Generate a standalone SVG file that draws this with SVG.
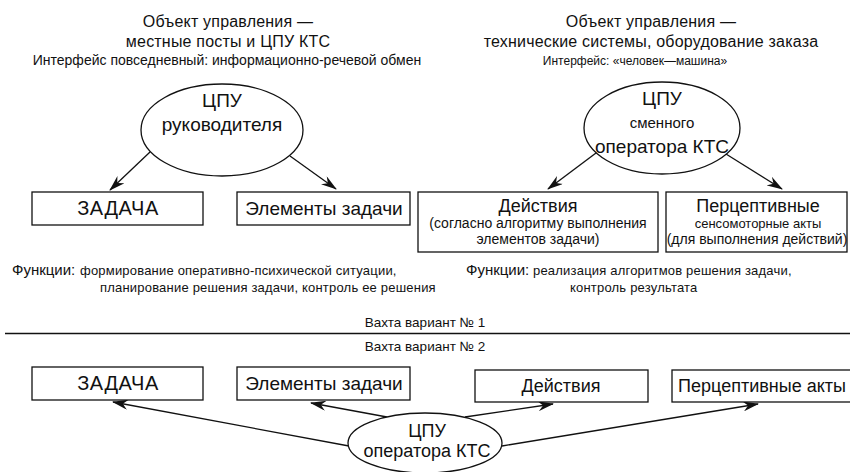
<svg xmlns="http://www.w3.org/2000/svg" width="850" height="472" viewBox="0 0 850 472">
<defs>
<marker id="ah" viewBox="0 0 16 10" refX="15" refY="5" markerWidth="16" markerHeight="10" markerUnits="userSpaceOnUse" orient="auto">
<path d="M0,0 L16,5 L0,10 L5,5 z" fill="#111"/>
</marker>
<style>
text{font-family:"Liberation Sans",Arial,sans-serif;fill:#111;text-anchor:middle}
.t{font-size:16px;letter-spacing:0.2px}
.s{font-size:14px}
.s2{font-size:12px}
.b{font-size:19px}
.z{font-size:20px;letter-spacing:0.6px}
.d{font-size:18px}
.m{font-size:14px}
.m2{font-size:13px}
.sm{font-size:15px}
.f{font-size:15px;text-anchor:start}
.fs{font-size:13px;letter-spacing:0.2px;text-anchor:start}
.v{font-size:13.5px}
rect,ellipse{fill:#fff;stroke:#111;stroke-width:1.3}
.c line{stroke:#111;stroke-width:1.3;marker-end:url(#ah)}
</style>
</defs>
<rect x="0" y="0" width="850" height="472" style="fill:#fff;stroke:none"/>
<g id="titles">
<text class="t" x="228" y="27">Объект управления —</text>
<text class="t" x="228" y="47">местные посты и ЦПУ КТС</text>
<text class="s" x="227" y="65">Интерфейс повседневный: информационно-речевой обмен</text>
<text class="t" x="651" y="27">Объект управления —</text>
<text class="t" x="651" y="47">технические системы, оборудование заказа</text>
<text class="s2" x="635" y="65">Интерфейс: «человек—машина»</text>
</g>
<g class="c" id="connectors">
<line x1="150" y1="152" x2="110" y2="190"/>
<line x1="290" y1="156" x2="336" y2="189"/>
<line x1="600" y1="150" x2="548" y2="189"/>
<line x1="726" y1="154" x2="782" y2="189"/>
<line x1="349" y1="446" x2="113" y2="402"/>
<line x1="387" y1="417" x2="311" y2="403"/>
<line x1="465" y1="417" x2="553" y2="404"/>
<line x1="502" y1="446" x2="758" y2="404"/>
</g>
<g id="n-ruk">
<ellipse cx="222" cy="130" rx="81" ry="46"/>
<text class="b" x="222" y="107">ЦПУ</text>
<text class="b" x="222" y="131">руководителя</text>
</g>
<g id="n-smen">
<ellipse cx="662" cy="128" rx="78" ry="46"/>
<text class="b" x="662" y="105">ЦПУ</text>
<text class="sm" x="662" y="128">сменного</text>
<text class="b" x="662" y="153">оператора КТС</text>
</g>
<g id="n-zad1">
<rect x="32" y="192" width="171" height="33"/>
<text class="z" x="118" y="215">ЗАДАЧА</text>
</g>
<g id="n-el1">
<rect x="237" y="192" width="173" height="33"/>
<text class="b" x="324" y="215">Элементы задачи</text>
</g>
<g id="n-dei1">
<rect x="418" y="192" width="240" height="60"/>
<text class="d" x="538" y="212">Действия</text>
<text class="m" x="538" y="228">(согласно алгоритму выполнения</text>
<text class="m" x="538" y="244">элементов задачи)</text>
</g>
<g id="n-per1">
<rect x="666" y="192" width="181" height="60"/>
<text class="d" x="758" y="212">Перцептивные</text>
<text class="m2" x="758" y="228">сенсомоторные акты</text>
<text class="m" x="757" y="244">(для выполнения действий)</text>
</g>
<g id="functions">
<text class="f" x="12" y="275">Функции:</text>
<text class="fs" x="80" y="275">формирование оперативно-психической ситуации,</text>
<text class="fs" x="100" y="292">планирование решения задачи, контроль ее решения</text>
<text class="f" x="466" y="275">Функции:</text>
<text class="fs" x="533" y="275">реализация алгоритмов решения задачи,</text>
<text class="fs" x="570" y="292">контроль результата</text>
</g>
<g id="watch">
<text class="v" x="425" y="327">Вахта вариант № 1</text>
<line x1="5" y1="333.5" x2="850" y2="333.5" style="stroke:#111;stroke-width:1.5"/>
<text class="v" x="425" y="351">Вахта вариант № 2</text>
</g>
<g id="n-zad2">
<rect x="32" y="367" width="171" height="33"/>
<text class="z" x="118" y="390">ЗАДАЧА</text>
</g>
<g id="n-el2">
<rect x="237" y="367" width="173" height="33"/>
<text class="b" x="324" y="390">Элементы задачи</text>
</g>
<g id="n-dei2">
<rect x="475" y="370" width="173" height="32"/>
<text class="d" x="561" y="392">Действия</text>
</g>
<g id="n-per2">
<rect x="672" y="370" width="180" height="32"/>
<text class="d" x="762" y="392">Перцептивные акты</text>
</g>
<g id="n-op">
<ellipse cx="425" cy="443" rx="77" ry="30"/>
<text class="d" x="427" y="437">ЦПУ</text>
<text class="d" x="427" y="457">оператора КТС</text>
</g>
</svg>
